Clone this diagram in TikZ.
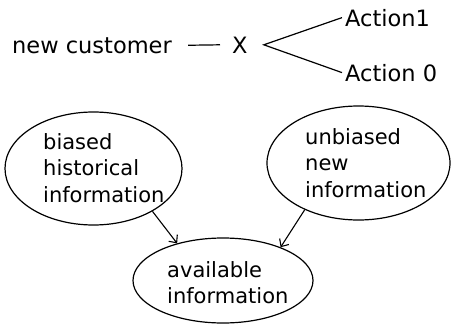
\documentclass[tikz,border=0pt]{standalone}
\usepackage{fontspec}
\setmainfont{DejaVu Sans}
\usetikzlibrary{shapes.geometric,arrows.meta}
\begin{document}
\begin{tikzpicture}[x=1pt,y=-1pt,
  bigtxt/.style={inner sep=0pt,anchor=base west,font=\fontsize{22.5}{26}\selectfont},
  eltxt/.style={inner sep=0pt,anchor=base west,font=\fontsize{21}{26}\selectfont},
  oval/.style={draw,ellipse,line width=1.2pt,inner sep=0pt},
  conn/.style={line width=1.2pt},
  arr/.style={line width=1.1pt,-{Straight Barb[length=6pt,width=11pt,line width=1.1pt]}}]
\useasboundingbox (0,0) rectangle (452,324);
% top row
\node[bigtxt] (nc) at (12,53) {new customer};
\node[bigtxt] (X) at (232,53) {X};
\node[bigtxt] (a1) at (345,26) {Action1};
\node[bigtxt] (a0) at (345,81) {Action 0};
\draw[conn] ([xshift=16pt]nc.east) -- ([xshift=-12pt]X.west);
\coordinate (v) at ([xshift=16pt]X.east);
\draw[conn] ([xshift=-3pt]a1.west) -- (v) -- ([xshift=-3pt]a0.west);
% ellipses
\node[oval,minimum width=177pt,minimum height=113pt] (L) at (93.5,168.5) {};
\node[oval,minimum width=183pt,minimum height=114pt] (R) at (358.5,163) {};
\node[oval,minimum width=180pt,minimum height=85pt] (B) at (223,280.5) {};
% texts
\node[eltxt] (l1) at (43,149) {biased};
\node[eltxt] (l2) at (43,175.5) {historical};
\node[eltxt] (l3) at (43,202) {information};
\node[eltxt] (r1) at (305,144) {unbiased};
\node[eltxt] (r2) at (305,170.5) {new};
\node[eltxt] (r3) at (305,197) {information};
\node[eltxt] (b1) at (167,277) {available};
\node[eltxt] (b2) at (167,303) {information};
% arrows
\draw[arr] (L.-36) -- (B.141);
\draw[arr] (R.-139.5) -- (B.30);
\end{tikzpicture}
\end{document}
